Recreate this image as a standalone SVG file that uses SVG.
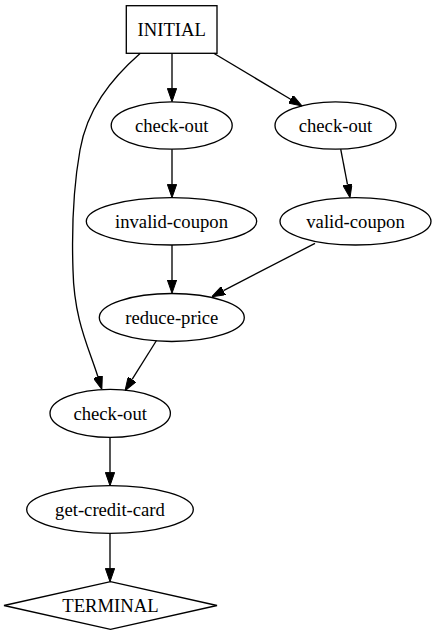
<svg xmlns="http://www.w3.org/2000/svg" width="437" height="635" viewBox="0 0 437 635">
<style>
.n{fill:none;stroke:#000;stroke-width:1.33}
.t{font-family:"Liberation Serif","Times New Roman",serif;font-size:18.67px;fill:#000;text-anchor:middle}
.e{fill:none;stroke:#000;stroke-width:1.33}
</style>
<defs>
<marker id="a" viewBox="0 0 13.3 9.3" markerWidth="13.3" markerHeight="9.3" markerUnits="userSpaceOnUse" refX="0" refY="4.65" orient="auto">
<path d="M0,0 L13.3,4.65 L0,9.3 z" fill="#000" stroke="#000" stroke-width="1"/>
</marker>
</defs>
<rect width="437" height="635" fill="#fff"/>
<g id="connectors">
<path class="e" marker-end="url(#a)" d="M172,53.3 L172,88.4"/>
<path class="e" marker-end="url(#a)" d="M213.7,53.3 L290.6,99.2"/>
<path class="e" marker-end="url(#a)" d="M172,149.3 L172,184.4"/>
<path class="e" marker-end="url(#a)" d="M340.7,149.2 L347.5,184.6"/>
<path class="e" marker-end="url(#a)" d="M172,245 L172,280"/>
<path class="e" marker-end="url(#a)" d="M315,243.3 L223.5,290.6"/>
<path class="e" marker-end="url(#a)" d="M156.5,340.5 L132.1,379.4"/>
<path class="e" marker-end="url(#a)" d="M140.3,53.3 C110,80 87,110 80,150 C72,195 72,240 73,270 C74,320 89,348 97.9,376.7"/>
<path class="e" marker-end="url(#a)" d="M110,437.3 L110,472.4"/>
<path class="e" marker-end="url(#a)" d="M110,533.3 L110,568.4"/>
</g>
<g id="initial">
<rect class="n" x="126.3" y="5.7" width="90.7" height="47.6"/>
<text class="t" x="171.7" y="36">INITIAL</text>
</g>
<g id="checkout1">
<ellipse class="n" cx="171.7" cy="125.5" rx="60.5" ry="23.7"/>
<text class="t" x="171.7" y="132">check-out</text>
</g>
<g id="checkout2">
<ellipse class="n" cx="335.5" cy="125.5" rx="60.5" ry="23.7"/>
<text class="t" x="335.5" y="132">check-out</text>
</g>
<g id="invalid-coupon">
<ellipse class="n" cx="171.5" cy="221.3" rx="85.2" ry="23.7"/>
<text class="t" x="171.5" y="227.8">invalid-coupon</text>
</g>
<g id="valid-coupon">
<ellipse class="n" cx="355.5" cy="221.3" rx="75.5" ry="23.7"/>
<text class="t" x="355.5" y="227.8">valid-coupon</text>
</g>
<g id="reduce-price">
<ellipse class="n" cx="171.8" cy="317.5" rx="72.5" ry="24"/>
<text class="t" x="171.8" y="324">reduce-price</text>
</g>
<g id="checkout3">
<ellipse class="n" cx="110.2" cy="413.3" rx="60.2" ry="24"/>
<text class="t" x="110.2" y="419.8">check-out</text>
</g>
<g id="get-credit-card">
<ellipse class="n" cx="110" cy="509.5" rx="83.3" ry="23.8"/>
<text class="t" x="110" y="516">get-credit-card</text>
</g>
<g id="terminal">
<polygon class="n" points="4,605.5 110.5,581.7 217,605.5 110.5,629.3"/>
<text class="t" x="110.5" y="612">TERMINAL</text>
</g>
</svg>
